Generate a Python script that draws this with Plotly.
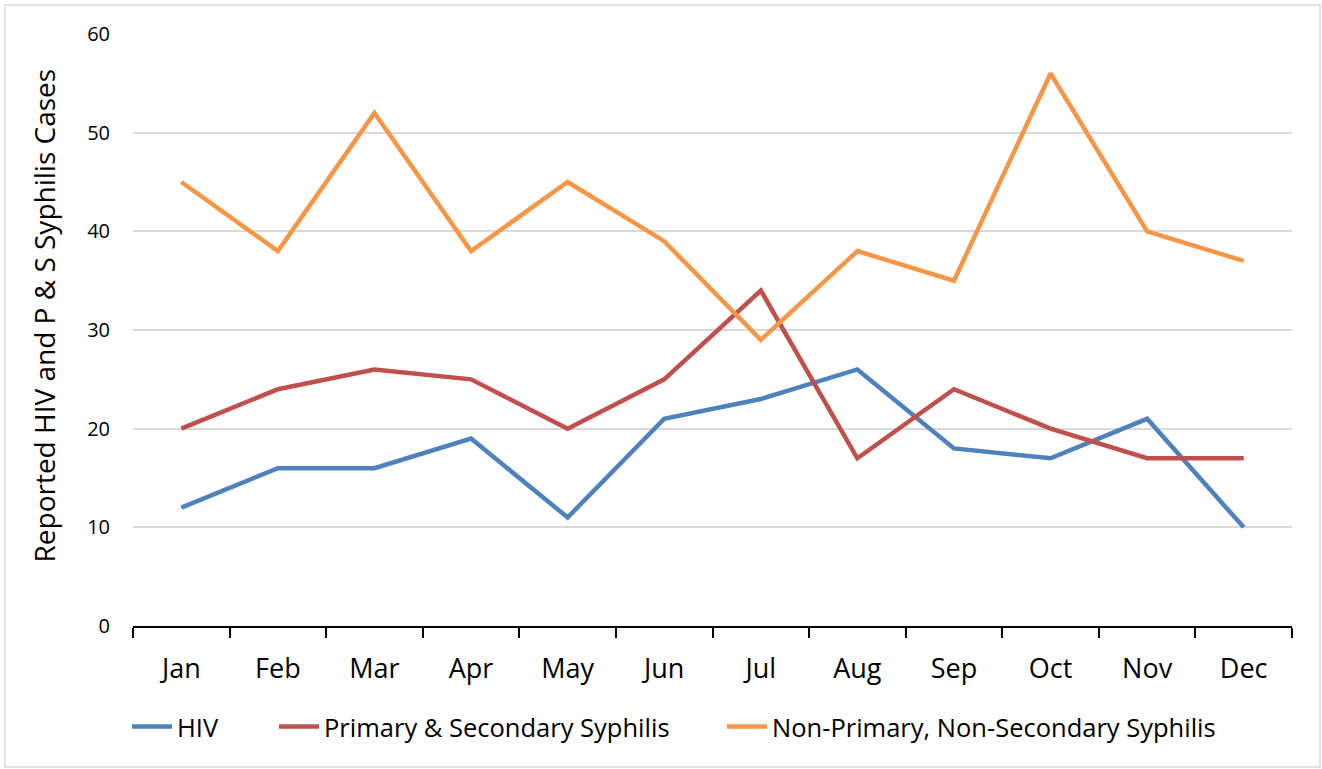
import plotly.graph_objects as go

months = ["Jan", "Feb", "Mar", "Apr", "May", "Jun", "Jul", "Aug", "Sep", "Oct", "Nov", "Dec"]
hiv = [12, 16, 16, 19, 11, 21, 23, 26, 18, 17, 21, 10]
ps_syphilis = [20, 24, 26, 25, 20, 25, 34, 17, 24, 20, 17, 17]
non_ps_syphilis = [45, 38, 52, 38, 45, 39, 29, 38, 35, 56, 40, 37]

series = [
    ("HIV", hiv, "#4F81BD"),
    ("Primary & Secondary Syphilis", ps_syphilis, "#C0504D"),
    ("Non-Primary, Non-Secondary Syphilis", non_ps_syphilis, "#F79646"),
]
y_title = "Reported HIV and P & S Syphilis Cases"

FONT = "Open Sans"
PLOT_L, PLOT_R, PLOT_T, PLOT_B = 133, 1292, 34, 626
PW, PH = PLOT_R - PLOT_L, PLOT_B - PLOT_T

# left edge (px) of each legend entry along the bottom row
legend_px = [127, 274, 722]
legend_names = ["legend", "legend2", "legend3"]

fig = go.Figure()
for (name, values, color), lg in zip(series, legend_names):
    fig.add_trace(go.Scatter(
        x=months, y=values, name=name, mode="lines",
        line=dict(color=color, width=4.5), legend=lg,
    ))

legend_common = dict(
    orientation="h", yanchor="middle", y=-(727 - PLOT_B) / PH,
    xanchor="left", font=dict(size=25.5, family=FONT), itemwidth=40,
    bgcolor="rgba(0,0,0,0)",
)

layout_legends = {
    lg: dict(legend_common, x=(px - PLOT_L) / PW)
    for lg, px in zip(legend_names, legend_px)
}

fig.update_layout(
    width=1322, height=769,
    margin=dict(l=PLOT_L, r=1322 - PLOT_R, t=PLOT_T, b=769 - PLOT_B),
    paper_bgcolor="white", plot_bgcolor="white",
    font=dict(family=FONT, color="#000000"),
    showlegend=True,
    **layout_legends,
    xaxis=dict(
        type="category", tickson="boundaries", ticks="outside", ticklen=10,
        tickcolor="black", tickwidth=2, showline=True, linecolor="black",
        linewidth=2, showgrid=False, tickfont=dict(size=27, family=FONT),
        ticklabelstandoff=18, range=[-0.5, 11.5],
    ),
    yaxis=dict(
        range=[0, 60], dtick=10, showgrid=True, gridcolor="#D9D9D9",
        gridwidth=1.5, zeroline=False, showline=False, ticks="",
        tickfont=dict(size=20, family=FONT), ticklabelstandoff=22,
    ),
    annotations=[dict(
        text=y_title, textangle=-90, showarrow=False,
        xref="paper", yref="paper",
        x=(43 - PLOT_L) / PW, y=(PLOT_B - 315.5) / PH,
        xanchor="center", yanchor="middle",
        font=dict(size=28, family=FONT),
    )],
    shapes=[dict(
        type="rect", xref="paper", yref="paper",
        x0=-(PLOT_L - 5) / PW, x1=1 + (1320 - PLOT_R) / PW,
        y0=-(767 - PLOT_B) / PH, y1=1 + (PLOT_T - 5) / PH,
        line=dict(color="#D9D9D9", width=1.5), fillcolor="rgba(0,0,0,0)",
        layer="below",
    )],
)

fig.write_html("out.html")
